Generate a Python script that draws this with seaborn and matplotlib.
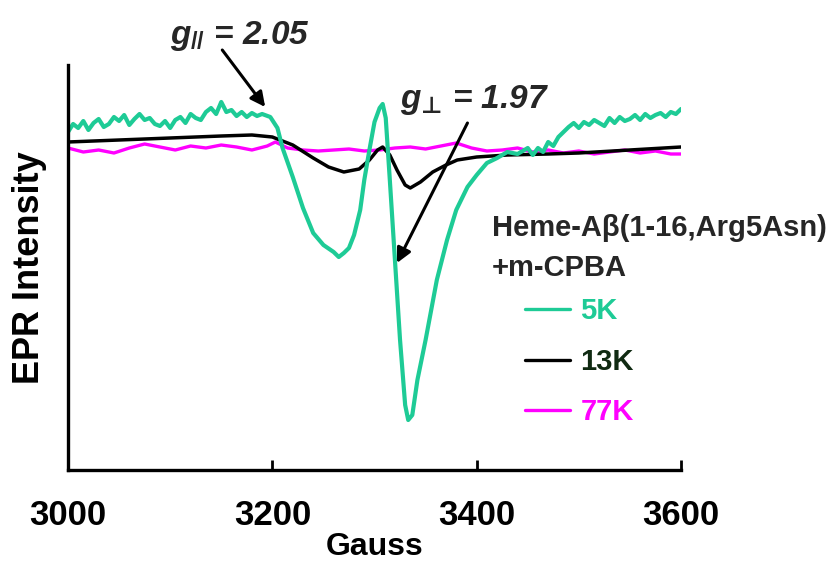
import numpy as np
import pandas as pd
import matplotlib
matplotlib.use("Agg")
import matplotlib.pyplot as plt
import seaborn as sns
from matplotlib.lines import Line2D

# ---------------- data ----------------
gauss_5k = [3000, 3005, 3010, 3015, 3020, 3025, 3030, 3035, 3040, 3045, 3050, 3055, 3060, 3065,
            3070, 3075, 3080, 3085, 3090, 3095, 3100, 3105, 3110, 3115, 3120, 3125, 3130, 3135,
            3140, 3145, 3150, 3155, 3160, 3165, 3170, 3175, 3180, 3185, 3190, 3198, 3205, 3210,
            3220, 3230, 3240, 3250, 3260, 3265, 3270, 3275, 3280, 3286, 3290, 3295, 3300, 3305,
            3308, 3311, 3315, 3320, 3325, 3330, 3333, 3337, 3342, 3350, 3361, 3371, 3380, 3391,
            3400, 3410, 3420, 3430, 3440, 3450, 3455, 3460, 3465, 3470, 3475, 3480, 3485, 3490,
            3495, 3500, 3505, 3510, 3515, 3520, 3525, 3530, 3535, 3540, 3545, 3550, 3555, 3560,
            3565, 3570, 3575, 3580, 3585, 3590, 3595, 3600]
int_5k = [338, 346, 342, 349, 340, 347, 351, 343, 346, 353, 349, 355, 345, 351,
          356, 350, 352, 346, 344, 349, 342, 350, 353, 347, 356, 352, 350, 358,
          362, 356, 368, 358, 360, 354, 358, 353, 357, 354, 356, 353, 342, 322,
          293, 262, 237, 225, 218, 213, 217, 222, 235, 260, 290, 320, 348, 362,
          366, 352, 290, 210, 130, 65, 50, 55, 90, 130, 190, 230, 260, 283,
          295, 307, 312, 318, 316, 322, 315, 322, 318, 328, 324, 333, 338, 343,
          347, 342, 348, 345, 350, 347, 344, 352, 347, 353, 349, 351, 355, 350,
          356, 352, 355, 357, 353, 358, 356, 361]

gauss_13k = [3000, 3050, 3100, 3150, 3180, 3200, 3220, 3240, 3255, 3270, 3285, 3295, 3303,
             3308, 3315, 3322, 3330, 3335, 3345, 3357, 3370, 3381, 3400, 3430, 3470, 3500,
             3550, 3600]
int_13k = [328, 330, 332, 334, 335, 333, 325, 312, 303, 298, 301, 310, 320,
           323, 315, 300, 285, 282, 288, 298, 305, 310, 313, 315, 316, 317,
           320, 323]

gauss_77k = [3000, 3015, 3030, 3045, 3060, 3075, 3090, 3105, 3120, 3135, 3150, 3165, 3180,
             3195, 3203, 3215, 3230, 3245, 3260, 3275, 3290, 3305, 3320, 3335, 3350, 3365,
             3380, 3395, 3410, 3425, 3440, 3455, 3470, 3485, 3500, 3515, 3530, 3545, 3560,
             3575, 3590, 3600]
int_77k = [322, 318, 320, 317, 322, 326, 323, 320, 324, 322, 325, 323, 320,
           324, 328, 322, 320, 319, 320, 321, 319, 320, 322, 323, 321, 324,
           327, 322, 319, 320, 322, 318, 320, 317, 319, 316, 318, 320, 317,
           319, 316, 316]

series_labels = ["5K", "13K", "77K"]
x_ticks = [3000, 3200, 3400, 3600]
legend_title = ["Heme-A\u03b2(1-16,Arg5Asn)", "+m-CPBA"]

# ---------------- styling ----------------
sns.set_theme(style="ticks")
plt.rcParams["font.family"] = ["Liberation Sans", "DejaVu Sans"]
plt.rcParams["font.weight"] = "bold"
plt.rcParams["mathtext.fontset"] = "custom"
plt.rcParams["mathtext.it"] = "Liberation Sans:italic:bold"
plt.rcParams["mathtext.rm"] = "Liberation Sans:bold"
plt.rcParams["mathtext.bf"] = "Liberation Sans:bold"
plt.rcParams["mathtext.sf"] = "DejaVu Sans:italic:bold"

line_colors = {"5K": "#1ecb96", "13K": "#000000", "77K": "#ff00ff"}
text_colors = {"5K": "#1ecb96", "13K": "#102a12", "77K": "#ff00ff"}
line_widths = {"5K": 3.0, "13K": 2.5, "77K": 2.4}

df = pd.concat([
    pd.DataFrame({"Gauss": gauss_5k, "Intensity": int_5k, "T": "5K"}),
    pd.DataFrame({"Gauss": gauss_13k, "Intensity": int_13k, "T": "13K"}),
    pd.DataFrame({"Gauss": gauss_77k, "Intensity": int_77k, "T": "77K"}),
], ignore_index=True)

W, H = 837, 567
fig = plt.figure(figsize=(W / 100, H / 100), dpi=100)
ax = fig.add_axes([68 / W, 1 - 470 / H, (681 - 68) / W, (470 - 65) / H])

for lab in ["77K", "13K", "5K"]:
    sub = df[df["T"] == lab]
    sns.lineplot(data=sub, x="Gauss", y="Intensity", color=line_colors[lab],
                 lw=line_widths[lab], ax=ax, estimator=None, sort=False, legend=False)

ax.set_xlim(3000, 3600)
ax.set_ylim(0, 405)
ax.set_xticks(x_ticks)
ax.set_xticklabels([str(t) for t in x_ticks])
ax.set_yticks([])
sns.despine(ax=ax)
for s in ["left", "bottom"]:
    ax.spines[s].set_linewidth(2.4)
    ax.spines[s].set_color("black")
ax.tick_params(axis="x", direction="in", length=7.5, width=2.0, pad=21,
               labelsize=25, colors="black")
ax.set_xlabel("Gauss", fontsize=23, fontweight="bold", labelpad=0, color="black")
ax.set_ylabel("EPR Intensity", fontsize=26, fontweight="bold", labelpad=15, color="black")

# annotations
ax.annotate("", xy=(3193, 363), xytext=(3151, 420), xycoords="data",
            arrowprops=dict(arrowstyle="-|>", lw=2.2, color="black",
                            mutation_scale=22, shrinkA=0, shrinkB=0),
            annotation_clip=False)
ax.annotate("", xy=(3322, 207), xytext=(3391, 347), xycoords="data",
            arrowprops=dict(arrowstyle="-|>", lw=2.2, color="black",
                            mutation_scale=22, shrinkA=0, shrinkB=0),
            annotation_clip=False)
fig.text(240 / W, 1 - 36 / H, r"$g_{\mathit{//}}$ = 2.05", fontsize=24,
         fontweight="bold", fontstyle="italic", ha="center", va="center")
fig.text(475 / W, 1 - 100 / H, "$g_{\\mathsf{\u22a5}}$ = 1.97", fontsize=24,
         fontweight="bold", fontstyle="italic", ha="center", va="center")

# legend
fig.text(492 / W, 1 - 228 / H, legend_title[0], fontsize=21, fontweight="bold",
         ha="left", va="center")
fig.text(492 / W, 1 - 268 / H, legend_title[1], fontsize=21, fontweight="bold",
         ha="left", va="center")
handles = [Line2D([0], [0], color=line_colors[l], lw=2.4) for l in series_labels]
leg = ax.legend(handles, series_labels, loc="upper left",
                bbox_to_anchor=(525 / W, 1 - 297 / H), bbox_transform=fig.transFigure,
                frameon=False, handlelength=1.55, handletextpad=0.35,
                labelspacing=0.78, borderpad=0, borderaxespad=0,
                labelcolor=[text_colors[l] for l in series_labels],
                prop={"weight": "bold", "size": 21})

fig.savefig("out.png", dpi=100, facecolor="white")
